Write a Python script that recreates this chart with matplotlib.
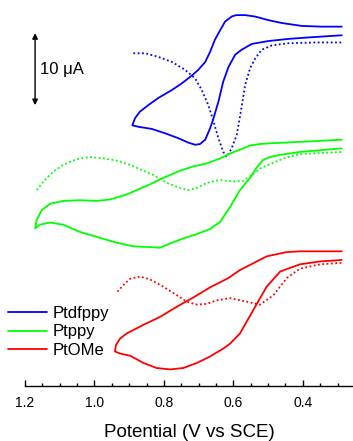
import matplotlib
matplotlib.use('Agg')
import matplotlib.pyplot as plt
from matplotlib.ticker import MultipleLocator

plt.rcParams['font.family'] = ['Liberation Sans', 'DejaVu Sans']

# Potentials (V vs SCE) and currents (uA, stacked offsets) for each complex.
# Cyclic voltammograms run from the right end, out to the switching potential and back.
ptdfppy_cv_v = [0.288, 0.345, 0.403, 0.460, 0.499, 0.537, 0.566, 0.592, 0.605, 0.624,
                0.638, 0.653, 0.667, 0.681, 0.701, 0.720, 0.749, 0.777, 0.816, 0.845,
                0.869, 0.883, 0.891,
                0.874, 0.835, 0.797, 0.758, 0.730, 0.710, 0.696, 0.681, 0.667, 0.657,
                0.643, 0.629, 0.614, 0.595, 0.576, 0.547, 0.499, 0.441, 0.384, 0.288]
ptdfppy_cv_i = [49.9, 49.9, 50.0, 50.4, 50.8, 51.3, 51.5, 51.5, 51.3, 50.6,
                49.4, 48.1, 46.4, 45.0, 43.9, 43.1, 42.0, 41.1, 40.0, 39.0,
                38.1, 37.2, 36.2,
                36.0, 35.7, 35.1, 34.4, 33.8, 33.5, 33.6, 34.2, 35.8, 37.2,
                39.5, 42.3, 44.3, 46.0, 46.7, 47.5, 47.9, 48.2, 48.4, 48.7]
ptdfppy_dpv_v = [0.888, 0.854, 0.816, 0.777, 0.739, 0.710, 0.691, 0.672, 0.657, 0.643,
                 0.629, 0.619, 0.605, 0.590, 0.581, 0.566, 0.552, 0.537, 0.518, 0.489,
                 0.441, 0.365, 0.288]
ptdfppy_dpv_i = [46.2, 46.2, 45.7, 45.0, 43.9, 42.7, 41.1, 39.0, 36.7, 34.4,
                 32.5, 31.8, 33.0, 34.9, 37.4, 41.8, 44.1, 45.5, 46.7, 47.3,
                 47.6, 47.7, 47.7]

ptppy_cv_v = [0.288, 0.408, 0.494, 0.523, 0.552, 0.571, 0.609, 0.638, 0.677, 0.715,
              0.753, 0.811, 0.840, 0.869, 0.907, 0.955, 0.993, 1.042, 1.090, 1.128,
              1.152, 1.166, 1.171,
              1.157, 1.128, 1.090, 1.042, 0.993, 0.936, 0.888, 0.845, 0.811, 0.792,
              0.744, 0.705, 0.667, 0.638, 0.609, 0.581, 0.552, 0.532, 0.514, 0.494,
              0.465, 0.408, 0.288]
ptppy_cv_i = [34.2, 33.9, 33.7, 33.6, 33.4, 33.0, 32.3, 31.6, 30.9, 30.5,
              29.9, 28.7, 28.0, 27.4, 26.6, 25.9, 25.7, 25.8, 25.7, 25.3,
              24.4, 23.1, 21.9,
              22.4, 22.7, 22.4, 21.4, 20.7, 19.9, 19.4, 19.3, 19.2, 19.6,
              20.5, 21.1, 21.8, 22.8, 24.9, 27.2, 28.9, 30.4, 31.4, 31.8,
              32.1, 32.5, 33.0]
ptppy_dpv_v = [1.166, 1.147, 1.118, 1.090, 1.051, 1.013, 0.974, 0.936, 0.897, 0.869,
               0.830, 0.792, 0.753, 0.730, 0.705, 0.677, 0.638, 0.600, 0.571, 0.547,
               0.523, 0.494, 0.456, 0.408, 0.288]
ptppy_dpv_i = [27.2, 28.4, 29.8, 30.7, 31.5, 31.8, 31.6, 31.3, 30.7, 30.1,
               29.3, 28.2, 27.5, 27.2, 27.5, 28.2, 28.6, 28.4, 28.5, 29.3,
               30.2, 30.8, 31.6, 32.2, 32.5]

ptome_cv_v = [0.288, 0.408, 0.446, 0.504, 0.581, 0.614, 0.667, 0.715, 0.763, 0.811,
              0.859, 0.907, 0.926, 0.938, 0.941,
              0.926, 0.897, 0.859, 0.821, 0.782, 0.744, 0.705, 0.667, 0.629, 0.609,
              0.581, 0.542, 0.504, 0.465, 0.408, 0.350, 0.288]
ptome_cv_i = [18.7, 18.7, 18.6, 18.0, 16.1, 15.0, 13.7, 12.3, 11.0, 9.6,
              8.5, 7.3, 6.6, 5.7, 4.8,
              4.5, 4.2, 3.2, 2.5, 2.3, 2.5, 3.2, 4.1, 5.2, 5.9,
              7.3, 10.6, 13.8, 15.9, 16.9, 17.3, 17.5]
ptome_dpv_v = [0.934, 0.917, 0.897, 0.869, 0.840, 0.802, 0.763, 0.734, 0.705, 0.677,
               0.648, 0.609, 0.561, 0.523, 0.485, 0.446, 0.408, 0.350, 0.288]
ptome_dpv_i = [13.1, 14.0, 14.9, 15.2, 14.8, 13.8, 12.6, 11.7, 11.3, 11.4,
               11.9, 12.2, 11.7, 11.3, 12.6, 15.0, 16.3, 16.9, 17.1]

labels = ['Ptdfppy', 'Ptppy', 'PtOMe']
colors = ['#0000ff', '#00ff00', '#ff0000']

fig = plt.figure(figsize=(3.53, 4.41), dpi=100)
ax = fig.add_axes([25 / 353, 55 / 441, 328 / 353, 386 / 441])

dotted = (0, (1, 1.4))
series = [(ptdfppy_cv_v, ptdfppy_cv_i, ptdfppy_dpv_v, ptdfppy_dpv_i),
          (ptppy_cv_v, ptppy_cv_i, ptppy_dpv_v, ptppy_dpv_i),
          (ptome_cv_v, ptome_cv_i, ptome_dpv_v, ptome_dpv_i)]
handles = []
for (cv_v, cv_i, dpv_v, dpv_i), lab, col in zip(series, labels, colors):
    h, = ax.plot(cv_v, cv_i, color=col, lw=1.3, label=lab,
                 solid_joinstyle='round', solid_capstyle='round')
    ax.plot(dpv_v, dpv_i, color=col, lw=1.3, linestyle=dotted)
    handles.append(h)

# 10 uA scale bar
ax.annotate('', xy=(1.171, 39.0), xytext=(1.171, 49.0),
            arrowprops=dict(arrowstyle='<|-|>', color='black', lw=1.0,
                            mutation_scale=8, shrinkA=0, shrinkB=0))
ax.text(1.157, 44.0, '10 \u03bcA', fontsize=12, ha='left', va='center')

ax.set_xlim(1.2, 0.2555)
ax.set_ylim(0, 53.6)
ax.xaxis.set_major_locator(MultipleLocator(0.2))
ax.xaxis.set_minor_locator(MultipleLocator(0.05))
ax.xaxis.set_major_formatter(plt.FuncFormatter(lambda v, p: '%.1f' % v))
ax.tick_params(axis='x', which='major', direction='in', length=4, width=1,
               labelsize=10, pad=7)
ax.tick_params(axis='x', which='minor', direction='in', length=2.5, width=1)
ax.set_yticks([])
for side in ['left', 'right', 'top']:
    ax.spines[side].set_visible(False)
ax.spines['bottom'].set_linewidth(1)
ax.set_xlabel('Potential (V vs SCE)', fontsize=13.5, labelpad=10)

fig.legend(handles=handles, loc='upper left', bbox_to_anchor=(8 / 353, 1 - 306 / 441),
           frameon=False, fontsize=12, handlelength=2.35, handletextpad=0.35,
           labelspacing=0.2, borderpad=0, borderaxespad=0)

fig.savefig('out.png', dpi=100)
